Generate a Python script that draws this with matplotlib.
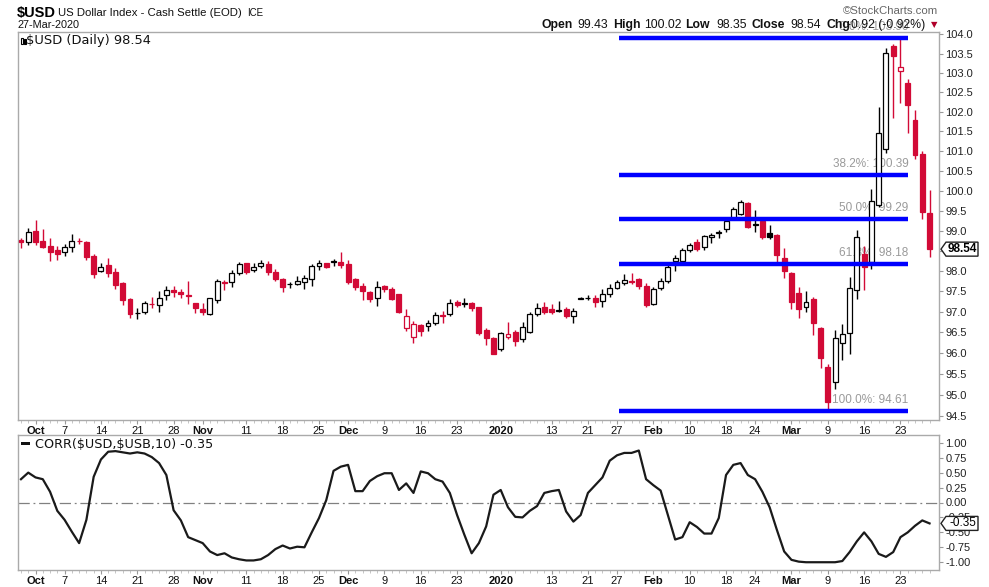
import numpy as np
import pandas as pd
import matplotlib
matplotlib.use("Agg")
import matplotlib.pyplot as plt
from matplotlib.ticker import FixedLocator, FormatStrFormatter, NullLocator, NullFormatter
from matplotlib.patches import Polygon, Rectangle
from matplotlib.transforms import IdentityTransform

plt.rcParams['font.family'] = ['Liberation Sans', 'DejaVu Sans']

W, H = 989, 587

# ---------------- data ----------------
holidays = ["2019-11-28", "2019-12-25", "2020-01-01", "2020-01-20", "2020-02-17"]
dates = pd.bdate_range("2019-09-27", "2020-03-27")
dates = dates[~dates.isin(pd.to_datetime(holidays))]

prior_close = 98.80

opens = [98.77, 98.71, 98.99, 98.74, 98.62, 98.52, 98.46, 98.59, 98.75, 98.72,
         98.38, 98.00, 98.15, 97.97, 97.70, 97.31, 96.97, 96.99, 97.19, 97.17,
         97.41, 97.53, 97.48, 97.41, 97.21, 97.06, 96.95, 97.29, 97.73, 97.72,
         97.94, 98.19, 98.02, 98.13, 98.17, 97.97, 97.80, 97.67, 97.67, 97.72,
         97.80, 98.13, 98.19, 98.23, 98.23, 98.17, 97.80, 97.64, 97.49, 97.33,
         97.63, 97.57, 97.43, 96.60, 96.38, 96.68, 96.65, 96.72, 96.92, 96.94,
         97.23, 97.20, 97.21, 97.11, 96.56, 96.36, 96.09, 96.38, 96.52, 96.33,
         96.52, 96.94, 97.11, 97.06, 97.03, 97.06, 96.90, 97.32, 97.33, 97.33,
         97.26, 97.44, 97.59, 97.70, 97.75, 97.80, 97.64, 97.18, 97.59, 97.75,
         98.25, 98.25, 98.52, 98.71, 98.59, 98.83, 98.94, 99.03, 99.31, 99.41,
         99.69, 99.15, 99.24, 98.93, 98.89, 98.31, 97.95, 97.46, 97.11, 97.31,
         96.61, 95.67, 95.31, 96.24, 96.48, 97.53, 98.41, 98.22, 99.64, 101.06,
         103.70, 103.05, 102.75, 101.80, 100.92, 99.43]
highs = [98.82, 99.06, 99.26, 99.04, 98.82, 98.62, 98.66, 98.91, 98.81, 98.74,
         98.41, 98.21, 98.33, 98.07, 97.74, 97.34, 97.09, 97.26, 97.37, 97.51,
         97.63, 97.64, 97.57, 97.75, 97.22, 97.21, 97.34, 97.80, 97.78, 98.02,
         98.23, 98.20, 98.21, 98.27, 98.25, 98.05, 97.82, 97.72, 97.88, 97.90,
         98.17, 98.27, 98.21, 98.30, 98.46, 98.27, 97.84, 97.70, 97.51, 97.75,
         97.66, 97.60, 97.44, 97.07, 96.78, 96.70, 96.80, 97.00, 97.02, 97.31,
         97.29, 97.35, 97.23, 97.13, 96.60, 96.38, 96.52, 96.76, 96.57, 96.76,
         97.00, 97.22, 97.25, 97.19, 97.27, 97.11, 97.09, 97.37, 97.41, 97.41,
         97.55, 97.67, 97.78, 97.92, 97.94, 97.84, 97.71, 97.61, 97.82, 98.15,
         98.39, 98.56, 98.70, 98.78, 98.89, 98.93, 99.01, 99.33, 99.58, 99.76,
         99.72, 99.51, 99.31, 99.14, 98.92, 98.56, 97.98, 97.60, 97.50, 97.37,
         96.63, 95.74, 96.56, 96.70, 97.86, 99.01, 98.63, 100.03, 102.12, 103.64,
         103.75, 103.90, 102.84, 102.05, 101.01, 100.02]
lows = [98.56, 98.64, 98.64, 98.56, 98.25, 98.27, 98.38, 98.48, 98.66, 98.27,
        97.82, 97.98, 97.86, 97.56, 97.17, 96.84, 96.82, 96.94, 97.09, 96.99,
        97.29, 97.37, 97.34, 97.18, 96.96, 96.92, 96.92, 97.21, 97.53, 97.61,
        97.90, 97.92, 97.98, 98.08, 97.90, 97.75, 97.49, 97.59, 97.66, 97.55,
        97.64, 98.02, 98.07, 98.13, 98.08, 97.67, 97.53, 97.29, 97.25, 97.15,
        97.49, 97.29, 96.96, 96.53, 96.24, 96.42, 96.53, 96.68, 96.74, 96.91,
        97.13, 97.13, 97.02, 96.44, 96.19, 95.97, 96.06, 96.33, 96.18, 96.27,
        96.48, 96.90, 96.95, 96.95, 96.99, 96.84, 96.73, 97.31, 97.29, 97.11,
        97.13, 97.37, 97.55, 97.66, 97.68, 97.55, 97.11, 97.17, 97.53, 97.70,
        98.01, 98.23, 98.48, 98.50, 98.52, 98.68, 98.81, 98.97, 99.28, 99.38,
        99.06, 98.97, 98.78, 98.78, 98.23, 97.84, 97.06, 96.84, 97.00, 96.44,
        95.65, 94.61, 95.13, 95.83, 95.97, 97.31, 97.53, 98.04, 99.58, 100.96,
        101.84, 102.23, 101.46, 100.79, 99.30, 98.35]
closes = [98.71, 98.96, 98.72, 98.60, 98.48, 98.42, 98.59, 98.75, 98.73, 98.34,
          97.93, 98.11, 97.94, 97.66, 97.29, 96.95, 96.98, 97.21, 97.18, 97.35,
          97.53, 97.48, 97.43, 97.39, 97.10, 96.99, 97.33, 97.75, 97.70, 97.94,
          98.17, 97.97, 98.11, 98.19, 97.97, 97.80, 97.61, 97.68, 97.75, 97.84,
          98.13, 98.20, 98.09, 98.25, 98.15, 97.72, 97.61, 97.52, 97.31, 97.61,
          97.55, 97.31, 96.99, 96.91, 96.70, 96.53, 96.73, 96.92, 96.91, 97.21,
          97.17, 97.21, 97.09, 96.48, 96.36, 95.99, 96.48, 96.45, 96.30, 96.64,
          96.94, 97.10, 97.00, 96.99, 97.04, 96.90, 97.02, 97.33, 97.34, 97.23,
          97.44, 97.59, 97.72, 97.78, 97.72, 97.64, 97.17, 97.56, 97.76, 98.11,
          98.32, 98.52, 98.65, 98.54, 98.86, 98.89, 98.96, 99.24, 99.53, 99.72,
          99.10, 99.16, 98.83, 98.85, 98.39, 98.01, 97.25, 97.06, 97.25, 96.72,
          95.87, 94.83, 96.36, 96.46, 97.59, 98.83, 98.09, 99.75, 101.47, 103.52,
          103.43, 103.16, 102.17, 100.90, 99.46, 98.54]

corr = [0.39, 0.50, 0.42, 0.39, 0.18, -0.14, -0.29, -0.49, -0.68, -0.29,
        0.43, 0.72, 0.85, 0.86, 0.84, 0.82, 0.84, 0.82, 0.76, 0.66,
        0.46, -0.13, -0.30, -0.58, -0.63, -0.68, -0.82, -0.88, -0.85, -0.92,
        -0.95, -0.97, -0.97, -0.95, -0.88, -0.78, -0.72, -0.77, -0.74, -0.75,
        -0.50, -0.26, 0.04, 0.53, 0.60, 0.63, 0.19, 0.19, 0.36, 0.44,
        0.49, 0.49, 0.21, 0.32, 0.16, 0.52, 0.49, 0.39, 0.35, 0.16,
        -0.21, -0.54, -0.85, -0.68, -0.40, 0.13, 0.21, -0.08, -0.24, -0.25,
        -0.14, -0.06, 0.16, 0.19, 0.21, -0.15, -0.32, -0.21, 0.16, 0.29,
        0.42, 0.70, 0.79, 0.83, 0.83, 0.87, 0.39, 0.29, 0.20, -0.21,
        -0.62, -0.58, -0.33, -0.41, -0.52, -0.52, -0.26, 0.46, 0.63, 0.66,
        0.46, 0.39, 0.18, -0.08, -0.46, -0.82, -0.96, -0.99, -1.00, -1.00,
        -1.00, -1.00, -1.00, -0.98, -0.83, -0.65, -0.50, -0.65, -0.86, -0.91,
        -0.83, -0.58, -0.50, -0.39, -0.30, -0.35]

fib_labels = ["0.0%", "38.2%", "50.0%", "61.8%", "100.0%"]
fib_levels = [103.90, 100.39, 99.29, 98.18, 94.61]
fib_start, fib_end = "2020-01-27", "2020-03-24"

tick_dates = ["2019-10-01", "2019-10-07", "2019-10-14", "2019-10-21", "2019-10-28",
              "2019-11-01", "2019-11-11", "2019-11-18", "2019-11-25", "2019-12-02",
              "2019-12-09", "2019-12-16", "2019-12-23", "2020-01-02", "2020-01-13",
              "2020-01-21", "2020-01-27", "2020-02-03", "2020-02-10", "2020-02-18",
              "2020-02-24", "2020-03-02", "2020-03-09", "2020-03-16", "2020-03-23"]
tick_labels = ["Oct", "7", "14", "21", "28", "Nov", "11", "18", "25", "Dec",
               "9", "16", "23", "2020", "13", "21", "27", "Feb", "10", "18",
               "24", "Mar", "9", "16", "23"]

price_ticks = [94.5, 95.0, 95.5, 96.0, 96.5, 97.0, 97.5, 98.0, 98.5, 99.0,
               99.5, 100.0, 100.5, 101.0, 101.5, 102.0, 102.5, 103.0, 103.5, 104.0]
corr_ticks = [-1.0, -0.75, -0.5, -0.25, 0.0, 0.25, 0.5, 0.75, 1.0]

# ---------------- figure ----------------
RED = '#D20A36'
GRAYF = '#aaaaaa'

fig = plt.figure(figsize=(W / 100, H / 100), dpi=100)
fig.patch.set_facecolor('white')


def fr(x0, y0, x1, y1):
    return [x0 / W, 1 - y1 / H, (x1 - x0) / W, (y1 - y0) / H]


ax = fig.add_axes(fr(18, 32, 939, 420))
ax2 = fig.add_axes(fr(18, 435, 939, 570))

x = np.arange(len(dates))
o = np.array(opens); h = np.array(highs); l = np.array(lows); c = np.array(closes)
prev = np.concatenate([[prior_close], c[:-1]])
edge = np.where(c >= prev, 'black', RED)
face = np.where(c > o, 'white', edge)

ax.set_yscale('log')
ax.vlines(x, l, h, colors=edge, lw=1.0, zorder=2)
ax.bar(x, np.abs(c - o), bottom=np.minimum(o, c), width=0.68, color=face,
       edgecolor=edge, linewidth=0.9, zorder=3)

xs = dates.get_loc(pd.Timestamp(fib_start)) + 0.3
xe = dates.get_loc(pd.Timestamp(fib_end)) + 0.1
ax.hlines(fib_levels, xs, xe, colors='#0000FF', lw=3.2, zorder=4)
for lab, lev in zip(fib_labels, fib_levels):
    ax.annotate(f"{lab}: {lev:.2f}", (xe, lev), xytext=(0, 3.5), textcoords='offset points',
                ha='right', va='bottom', fontsize=8.5, color='#9a9a9a', zorder=1,
                annotation_clip=False)

xlim = (-0.41, 126.3)
ax.set_xlim(*xlim)
ax.set_ylim(94.40, 104.065)

# lower panel
ax2.plot(x, corr, color='#1a1a1a', lw=1.6, zorder=3)
ax2.axhline(0, color='#808080', lw=0.9, ls=(0, (9, 3, 1.5, 3)), zorder=1)
ax2.set_xlim(*xlim)
ax2.set_ylim(-1.13, 1.13)

tick_pos = dates.get_indexer(pd.to_datetime(tick_dates))
for a in (ax, ax2):
    for sp in a.spines.values():
        sp.set_color(GRAYF)
        sp.set_linewidth(1.0)
    a.yaxis.tick_right()
    a.xaxis.set_major_locator(FixedLocator(tick_pos))
    a.xaxis.set_minor_locator(FixedLocator(x))
    a.set_xticklabels(tick_labels)
    for t, lab in zip(a.get_xticklabels(), tick_labels):
        if not lab.isdigit() or lab == "2020":
            t.set_fontweight('bold')
    a.tick_params(axis='x', which='major', length=3, color='#999999', labelsize=8,
                  pad=1.5, labelcolor='#111111')
    a.tick_params(axis='x', which='minor', length=2, color='#bbbbbb')
    a.tick_params(axis='y', which='major', length=3, color='#999999', labelsize=8,
                  pad=1.5, labelcolor='#222222')
    a.tick_params(axis='y', which='minor', length=0)

ax.yaxis.set_major_locator(FixedLocator(price_ticks))
ax.yaxis.set_major_formatter(FormatStrFormatter('%.1f'))
ax.yaxis.set_minor_locator(NullLocator())
ax.yaxis.set_minor_formatter(NullFormatter())
ax2.yaxis.set_major_locator(FixedLocator(corr_ticks))
ax2.yaxis.set_major_formatter(FormatStrFormatter('%.2f'))

# ---------------- texts ----------------
def ftext(px, py, s, **kw):
    return fig.text(px / W, 1 - py / H, s, **kw)

ftext(17, 16.5, "$USD", fontsize=10.5, fontweight='bold', va='baseline')
ftext(58, 16.5, "US Dollar Index - Cash Settle (EOD)", fontsize=8.2, va='baseline', color='#111111')
ftext(247, 16.5, "ICE", fontsize=7, va='baseline', color='#111111')
ftext(17, 27.5, "27-Mar-2020", fontsize=7.8, va='baseline', color='#111111')
ftext(938, 13.5, "\u00a9StockCharts.com", fontsize=8.2, va='baseline', ha='right', color='#666666')

hdr = [(541.5, "Open", True), (577, "99.43", False), (613, "High", True), (644, "100.02", False),
       (685.5, "Low", True), (716, "98.35", False), (752, "Close", True), (790.5, "98.54", False),
       (826.5, "Chg", True), (847, "-0.92 (-0.92%)", False)]
for px, s, b in hdr:
    ftext(px, 28.3, s, fontsize=8.8, fontweight='bold' if b else 'normal', va='baseline',
          color='#111111')
ftext(934.5, 27.5, "\u25BC", fontsize=6, va='baseline', ha='center', color='#B0002A',
      family='DejaVu Sans')

ftext(26.5, 44, "$USD (Daily) 98.54", fontsize=9.4, va='baseline', family='DejaVu Sans',
      color='#111111')
ftext(35, 447.5, r"CORR(\$USD,\$USB,10) -0.35", fontsize=9.2, va='baseline',
      family='DejaVu Sans', color='#111111')

ident = IdentityTransform()
# tiny candle icon
for (x0, y0, hh, filled) in [(20.5, 37.5, 6, False), (23.5, 38.5, 5, True)]:
    fig.add_artist(Rectangle((x0, H - y0 - hh), 2.0, hh, transform=ident,
                             facecolor='black' if filled else 'white',
                             edgecolor='black', lw=0.8))
fig.add_artist(Rectangle((21, H - 444.8), 9, 2.4, transform=ident, facecolor='#111111',
                         edgecolor='none'))


def value_box(axis, val, text, bold):
    yd = axis.transData.transform((0, val))[1]
    xr = axis.transAxes.transform((1, 0))[0]
    tip = xr + 2
    pts = [(tip, yd), (tip + 5, yd + 7), (tip + 37, yd + 7), (tip + 37, yd - 7), (tip + 5, yd - 7)]
    fig.add_artist(Polygon(pts, closed=True, facecolor='white', edgecolor='#222222', lw=1.0,
                           transform=ident, zorder=10))
    fig.text((tip + 21.5) / W, yd / H, text, ha='center', va='center', fontsize=8.5,
             fontweight='bold' if bold else 'normal', zorder=11)


value_box(ax, closes[-1], f"{closes[-1]:.2f}", True)
value_box(ax2, corr[-1], f"{corr[-1]:.2f}", False)

fig.savefig("out.png", dpi=100)
